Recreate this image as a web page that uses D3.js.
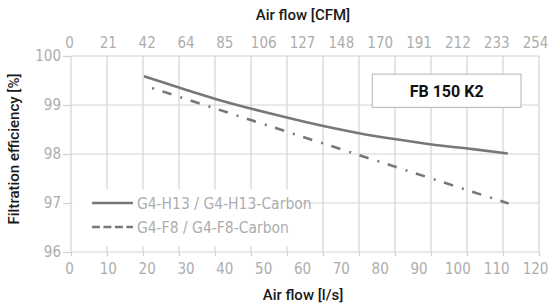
<!DOCTYPE html>
<html>
<head>
<meta charset="utf-8">
<script src="https://cdn.jsdelivr.net/npm/d3@7"></script>
<style>
  html, body { margin: 0; padding: 0; background: #fff; }
  svg { display: block; }
  .tick-lbl text { font-family: 'Liberation Sans Narrow', 'DejaVu Sans Condensed', sans-serif; font-size: 15px; fill: #adadad; }
  .title { font-family: Roboto, 'Liberation Sans', sans-serif; font-size: 15px; font-weight: 500; fill: #1a1a1a; }
</style>
</head>
<body>
<script>
// ---- data ----
const lsTicks  = [0, 10, 20, 30, 40, 50, 60, 70, 80, 90, 100, 110, 120];
const cfmTicks = ["0", "21", "42", "64", "85", "106", "127", "148", "170", "191", "212", "233", "254"];
const yTicks   = [96, 97, 98, 99, 100];
const gridIdx  = [0, 1, 2, 3, 4, 5, 6, 7, 8, 9, 10, 11, 12, 13];

const seriesNames = ["G4-H13 / G4-H13-Carbon", "G4-F8 / G4-F8-Carbon"];
const h13Flow = [19.3, 28.5, 37.5, 52.7, 65.5, 75, 84.3, 93.8, 104, 113];
const h13Eff  = [99.585, 99.35, 99.13, 98.81, 98.57, 98.42, 98.30, 98.19, 98.10, 98.01];
const f8Flow  = [19.3, 113.2];
const f8Eff   = [99.40, 96.99];
const modelLabel = "FB 150 K2";

// ---- layout ----
const W = 548, H = 304;
const svg = d3.select("body").append("svg").attr("width", W).attr("height", H);

const x = d3.scaleLinear().domain([0, 120]).range([69, 535]);
const gx = d3.scaleLinear().domain([0, 13]).range([71, 539]);
const y = d3.scaleLinear().domain([96, 100]).range([252, 56]);

const gridColor = "#d3d3d3";

// gridlines
svg.append("g").selectAll("line.v").data(gridIdx).join("line")
  .attr("x1", d => gx(d)).attr("x2", d => gx(d))
  .attr("y1", y(100)).attr("y2", y(96))
  .attr("stroke", gridColor).attr("stroke-width", 1.2);
svg.append("g").selectAll("line.h").data(yTicks).join("line")
  .attr("x1", gx(0)).attr("x2", gx(13))
  .attr("y1", d => y(d)).attr("y2", d => y(d))
  .attr("stroke", gridColor).attr("stroke-width", 1.2);

// bottom tick marks
const bt = svg.append("g").attr("transform", `translate(0,${y(96)})`)
  .call(d3.axisBottom(gx).tickValues(gridIdx).tickSize(4).tickFormat(""));
bt.select(".domain").remove();
bt.selectAll("line").attr("stroke", gridColor).attr("stroke-width", 1.2);

// bottom labels
const bl = svg.append("g").attr("class", "tick-lbl").attr("transform", `translate(0,${y(96)})`)
  .call(d3.axisBottom(x).tickValues(lsTicks).tickSize(0).tickPadding(11));
bl.select(".domain").remove();

// top labels
const tl = svg.append("g").attr("class", "tick-lbl").attr("transform", `translate(0,${y(100)})`)
  .call(d3.axisTop(x).tickValues(lsTicks).tickSize(0).tickPadding(8)
    .tickFormat((d, i) => cfmTicks[i]));
tl.select(".domain").remove();

// left axis
const la = svg.append("g").attr("class", "tick-lbl").attr("transform", `translate(${gx(0)},0)`)
  .call(d3.axisLeft(y).tickValues(yTicks).tickSize(8).tickPadding(2).tickFormat(d3.format("d")));
la.select(".domain").remove();
la.selectAll("line").attr("stroke", gridColor).attr("stroke-width", 1.2);

// legend background
svg.append("rect").attr("x", x(0.8)).attr("y", y(97.28)).attr("width", x(59.3) - x(0.8))
  .attr("height", y(96.12) - y(97.28)).attr("fill", "#fff");

// lines
const lineColor = "#777";
const line = d3.line().x(d => x(d[0])).y(d => y(d[1])).curve(d3.curveMonotoneX);
svg.append("path").datum(h13Flow.map((f, i) => [f, h13Eff[i]]))
  .attr("d", line).attr("fill", "none").attr("stroke", lineColor).attr("stroke-width", 2.6);
svg.append("path").datum(f8Flow.map((f, i) => [f, f8Eff[i]]))
  .attr("d", line).attr("fill", "none").attr("stroke", lineColor).attr("stroke-width", 2.6)
  .attr("stroke-dasharray", "2,8.8,9.5,9.3").attr("stroke-dashoffset", 21);

// legend
const leg = svg.append("g").attr("transform", `translate(${x(5.9)},0)`);
const styles = [null, "8,3.5"];
seriesNames.forEach((name, i) => {
  const yy = y(97.0 - i * 0.49);
  leg.append("line").attr("x1", 0).attr("x2", 41).attr("y1", yy).attr("y2", yy)
    .attr("stroke", lineColor).attr("stroke-width", 2.6)
    .attr("stroke-dasharray", styles[i]);
  leg.append("g").attr("class", "tick-lbl").append("text")
    .attr("x", 45).attr("y", yy).attr("dy", "0.36em").style("font-size", "15.5px").text(name);
});

// model box
const bx = x(78.1), bw = x(116.4) - x(78.1);
const by = y(99.63), bh = y(98.95) - y(99.63);
svg.append("rect").attr("x", bx).attr("y", by).attr("width", bw).attr("height", bh)
  .attr("fill", "#fff").attr("stroke", "#bdbdbd").attr("stroke-width", 1.2);
svg.append("text").attr("x", bx + bw / 2).attr("y", by + bh / 2).attr("dy", "0.36em")
  .attr("text-anchor", "middle")
  .style("font-family", "Roboto, 'Liberation Sans', sans-serif").style("font-size", "16px")
  .style("font-weight", "700").style("fill", "#111").text(modelLabel);

// titles
svg.append("text").attr("class", "title").attr("x", (gx(0) + gx(13)) / 2 - 2).attr("y", 20)
  .attr("text-anchor", "middle").text("Air flow [CFM]");
svg.append("text").attr("class", "title").attr("x", (gx(0) + gx(13)) / 2 - 2).attr("y", 300)
  .attr("text-anchor", "middle").text("Air flow [l/s]");
svg.append("text").attr("class", "title")
  .attr("transform", `translate(19,${(y(96) + y(100)) / 2 - 5}) rotate(-90)`)
  .attr("text-anchor", "middle").text("Filtration efficiency [%]");
</script>
</body>
</html>
